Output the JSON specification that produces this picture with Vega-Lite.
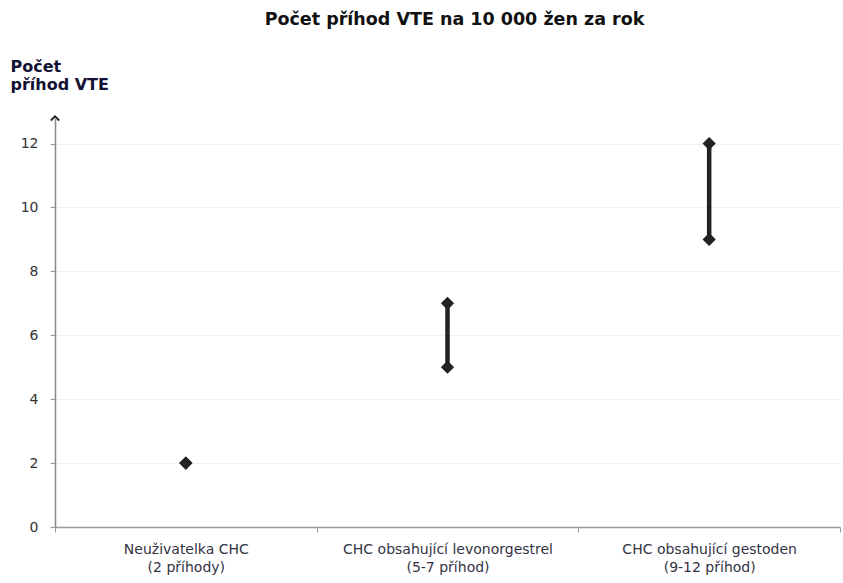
{
  "$schema": "https://vega.github.io/schema/vega-lite/v6.json",
  "autosize": "none",
  "width": 785,
  "height": 409,
  "padding": {"left": 55, "top": 118, "right": 3, "bottom": 56},
  "background": "white",
  "title": {
    "text": "Počet příhod VTE na 10 000 žen za rok",
    "font": "DejaVu Sans",
    "fontSize": 17.5,
    "fontWeight": "bold",
    "color": "#111111",
    "anchor": "middle",
    "frame": "group",
    "dx": 7,
    "offset": 30
  },
  "datasets": {
    "vte": [
      {"kat": "Neuživatelka CHC|(2 příhody)", "low": 2, "high": 2},
      {"kat": "CHC obsahující levonorgestrel|(5-7 příhod)", "low": 5, "high": 7},
      {"kat": "CHC obsahující gestoden|(9-12 příhod)", "low": 9, "high": 12}
    ],
    "osa": [
      {"kat": "Neuživatelka CHC|(2 příhody)", "konec": 12.8}
    ]
  },
  "data": {"name": "vte"},
  "encoding": {
    "x": {
      "field": "kat",
      "type": "nominal",
      "sort": null,
      "scale": {"paddingInner": 0, "paddingOuter": 0},
      "axis": {
        "title": null,
        "labelAngle": 0,
        "labelExpr": "split(datum.label, '|')",
        "labelFont": "DejaVu Sans",
        "labelFontSize": 14,
        "labelLimit": 400,
        "labelColor": "#333344",
        "labelPadding": 10,
        "labelLineHeight": 18,
        "tickBand": "extent",
        "tickColor": "#999999",
        "tickSize": 5,
        "domainColor": "#999999",
        "domainWidth": 1.5
      }
    }
  },
  "layer": [
    {
      "mark": {"type": "rule", "strokeWidth": 4.5, "color": "#222222"},
      "encoding": {
        "y": {
          "field": "low",
          "type": "quantitative",
          "scale": {"domain": [0, 12.8], "nice": false},
          "axis": {
            "title": ["Počet", "příhod VTE"],
            "titleAngle": 0,
            "titleAlign": "left",
            "titleBaseline": "top",
            "titleX": -45,
            "titleY": -60,
            "titleFont": "DejaVu Sans",
            "titleFontSize": 16,
            "titleFontWeight": "bold",
            "titleColor": "#111133",
            "titleLineHeight": 18,
            "values": [0, 2, 4, 6, 8, 10, 12],
            "labelFont": "DejaVu Sans",
            "labelFontSize": 14,
            "labelColor": "#333333",
            "labelPadding": 12,
            "tickColor": "#999999",
            "tickSize": 5,
            "domainColor": "#888888",
            "domainWidth": 1.5,
            "grid": true,
            "gridColor": "#f0f0f0"
          }
        },
        "y2": {"field": "high"}
      }
    },
    {
      "mark": {"type": "point", "shape": "diamond", "filled": true, "size": 175, "color": "#222222", "opacity": 1},
      "encoding": {"y": {"field": "low", "type": "quantitative"}}
    },
    {
      "mark": {"type": "point", "shape": "diamond", "filled": true, "size": 175, "color": "#222222", "opacity": 1},
      "encoding": {"y": {"field": "high", "type": "quantitative"}}
    },
    {
      "data": {"name": "osa"},
      "mark": {"type": "point", "shape": "M-1,0.6L0,-0.4L1,0.6", "filled": false, "size": 70, "color": "#222222", "strokeWidth": 1.8, "opacity": 1},
      "encoding": {
        "x": {"field": "kat", "type": "nominal", "sort": null, "bandPosition": 0},
        "y": {"field": "konec", "type": "quantitative"}
      }
    }
  ],
  "config": {"view": {"stroke": null}}
}
